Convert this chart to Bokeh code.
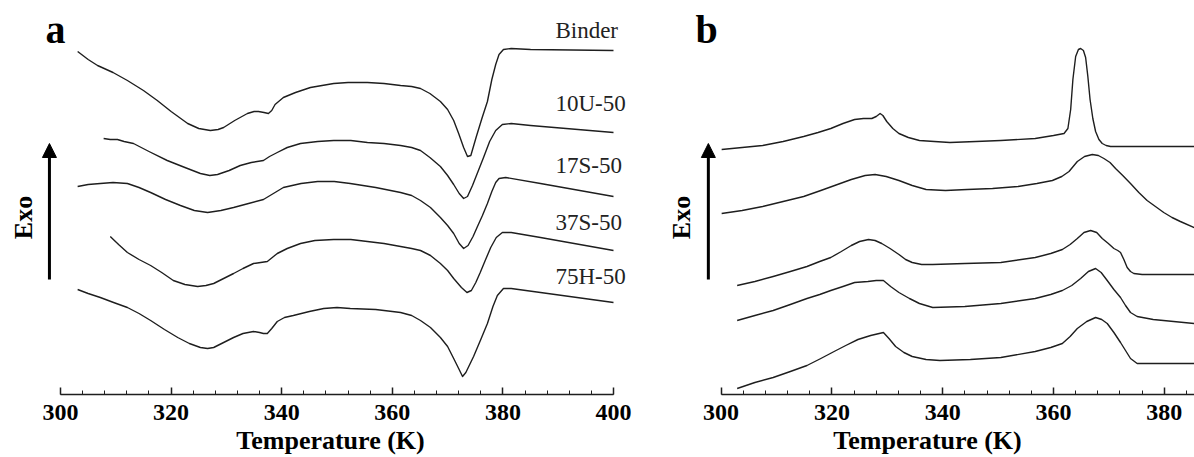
from math import pi
from bokeh.plotting import figure
from bokeh.layouts import row
from bokeh.models import Range1d, SingleIntervalTicker, Arrow, NormalHead
from bokeh.core.properties import value
from bokeh.embed import file_html
from bokeh.resources import INLINE

# ---------------- data (temperature in K, heat flow in arbitrary offset units) ----------------
# Panel a
a_binder_T = [303.1, 305.0, 306.7, 309.5, 312.1, 315.0, 317.5, 320.0, 323.0, 325.0, 327.1, 328.5, 329.5,
              331.5, 333.8, 335.0, 335.8, 336.8, 337.6, 338.2, 338.8, 340.3, 342.5, 345.2, 349.4, 352.0,
              355.5, 358.5, 361.5, 363.5, 365.1, 366.8, 368.7, 370.0, 371.1, 372.0, 372.9, 373.6, 374.2,
              375.2, 376.2, 377.2, 378.0, 378.7, 379.3, 380.1, 381.5, 385.0, 400.0]
a_binder_y = [34.3, 33.5, 32.9, 32.2, 31.4, 30.4, 29.4, 28.3, 27.1, 26.6, 26.4, 26.5, 26.7,
              27.4, 28.1, 28.3, 28.3, 28.2, 28.1, 28.4, 29.0, 29.7, 30.2, 30.7, 31.1, 31.2,
              31.2, 31.1, 30.9, 30.8, 30.6, 30.1, 29.3, 28.5, 27.4, 26.1, 24.7, 23.8, 23.9,
              25.8, 27.6, 29.3, 31.5, 33.0, 34.0, 34.5, 34.6, 34.5, 34.4]

a_10u_T = [307.8, 309.0, 310.3, 311.5, 313.2, 316.0, 319.3, 322.5, 325.3, 327.0, 328.4, 330.5, 332.5,
           334.5, 336.7, 337.8, 339.2, 341.0, 343.4, 346.5, 349.4, 352.5, 355.5, 358.5, 361.5, 363.5,
           365.1, 366.8, 368.7, 370.0, 371.1, 372.1, 372.9, 373.6, 374.5, 375.5, 376.5, 377.6, 378.7,
           379.9, 381.5, 385.0, 400.0]
a_10u_y = [25.6, 25.5, 25.5, 25.3, 25.1, 24.3, 23.4, 22.7, 22.1, 21.9, 22.0, 22.4, 22.9,
           23.2, 23.4, 23.8, 24.2, 24.7, 25.1, 25.3, 25.4, 25.4, 25.2, 25.1, 24.9, 24.7,
           24.4, 23.7, 22.8, 21.9, 21.0, 20.1, 19.6, 19.8, 20.9, 22.3, 23.7, 25.3, 26.4,
           27.0, 27.1, 26.9, 26.2]

a_17s_T = [303.1, 305.0, 307.2, 309.5, 312.1, 314.2, 316.3, 319.0, 321.7, 324.2, 326.6, 329.0, 331.3,
           334.0, 336.7, 338.5, 340.3, 343.5, 346.5, 349.5, 352.4, 357.0, 361.5, 363.5, 365.1, 366.9,
           368.7, 370.0, 371.1, 372.1, 372.9, 373.7, 374.6, 375.4, 376.3, 377.2, 378.0, 378.7, 379.3,
           380.5, 386.8, 400.0]
a_17s_y = [20.8, 21.0, 21.1, 21.2, 21.1, 20.7, 20.2, 19.5, 18.9, 18.4, 18.2, 18.4, 18.7,
           19.1, 19.5, 20.1, 20.7, 21.1, 21.3, 21.3, 21.1, 20.7, 20.2, 19.9, 19.4, 18.7,
           17.7, 16.9, 16.1, 15.1, 14.6, 14.9, 15.8, 16.8, 17.9, 19.1, 20.3, 21.2, 21.6,
           21.7, 21.1, 19.8]

a_37s_T = [309.0, 310.5, 312.1, 314.2, 316.3, 318.3, 320.4, 322.5, 324.8, 326.3, 327.7, 329.5, 331.3,
           333.0, 334.9, 336.2, 337.4, 338.3, 339.2, 341.0, 343.4, 346.0, 349.4, 352.5, 355.5, 358.5,
           361.5, 363.5, 365.1, 366.9, 368.7, 370.0, 371.1, 372.5, 373.5, 374.3, 375.1, 375.9, 376.8,
           377.8, 378.8, 379.9, 381.5, 386.8, 400.0]
a_37s_y = [15.8, 15.0, 14.2, 13.5, 12.9, 12.2, 11.4, 11.0, 10.8, 10.9, 11.1, 11.6, 12.1,
           12.6, 13.1, 13.2, 13.3, 13.7, 14.1, 14.6, 15.1, 15.4, 15.5, 15.5, 15.3, 15.1,
           14.8, 14.6, 14.4, 13.9, 13.1, 12.4, 11.6, 10.7, 10.2, 10.4, 11.2, 12.2, 13.4,
           14.7, 15.7, 16.2, 16.2, 15.7, 14.4]

a_75h_T = [303.1, 305.0, 307.2, 309.6, 312.1, 314.2, 316.3, 318.8, 321.2, 323.3, 325.3, 326.6, 327.7,
           329.5, 331.3, 333.0, 334.9, 336.0, 336.7, 337.4, 338.2, 339.2, 340.5, 342.1, 345.0, 347.6,
           350.0, 352.4, 357.0, 361.5, 363.5, 365.1, 366.9, 368.7, 370.0, 371.1, 372.0, 372.7, 373.3,
           374.0, 374.7, 376.0, 377.2, 378.2, 379.0, 380.1, 381.5, 386.8, 400.0]
a_75h_y = [10.5, 10.1, 9.7, 9.2, 8.7, 8.1, 7.4, 6.5, 5.7, 5.1, 4.7, 4.6, 4.7,
           5.2, 5.7, 6.1, 6.3, 6.2, 6.1, 6.1, 6.6, 7.3, 7.7, 7.9, 8.3, 8.6,
           8.7, 8.6, 8.5, 8.2, 7.9, 7.4, 6.7, 5.7, 4.8, 3.6, 2.6, 1.8, 2.2,
           3.0, 3.8, 5.5, 7.1, 8.8, 9.9, 10.6, 10.6, 10.2, 9.2]

a_names = ["Binder", "10U-50", "17S-50", "37S-50", "75H-50"]
a_label_T = [389.5, 389.5, 389.5, 389.5, 389.5]
a_label_y = [36.45, 29.15, 22.95, 17.25, 11.85]

# Panel b
b1_T = [300.1, 303.8, 307.5, 311.2, 314.9, 317.5, 319.8, 322.0, 324.1, 325.7, 327.2, 328.0, 328.7,
        329.2, 329.9, 331.0, 332.1, 333.8, 335.8, 338.5, 341.3, 346.0, 350.5, 356.7, 360.0, 361.9,
        362.6, 363.1, 363.5, 364.0, 364.5, 364.9, 365.4, 365.8, 366.2, 366.6, 367.1, 367.6, 368.2,
        368.8, 369.5, 370.3, 385.4]
b1_y = [24.5, 24.7, 24.9, 25.3, 25.8, 26.2, 26.6, 27.1, 27.5, 27.6, 27.6, 27.8, 28.1,
        27.9, 27.3, 26.6, 26.1, 25.7, 25.4, 25.3, 25.2, 25.3, 25.4, 25.6, 25.9, 26.1,
        26.6, 28.5, 31.5, 33.8, 34.5, 34.6, 34.4, 33.7, 31.8, 29.5, 27.6, 26.3, 25.5,
        25.1, 24.9, 24.8, 24.8]

b2_T = [300.1, 303.8, 307.5, 311.2, 314.9, 318.0, 321.0, 323.5, 326.0, 327.8, 329.8, 332.1, 334.5,
        337.0, 340.5, 344.4, 349.0, 353.6, 357.0, 359.8, 361.5, 362.8, 364.3, 365.6, 367.0, 368.1,
        369.1, 370.2, 371.2, 372.5, 373.9, 375.4, 376.9, 378.4, 379.9, 381.4, 382.9, 385.4]
b2_y = [18.1, 18.4, 18.8, 19.3, 19.8, 20.4, 21.0, 21.5, 21.9, 22.0, 21.8, 21.4, 20.9,
        20.5, 20.4, 20.5, 20.6, 20.8, 21.1, 21.4, 21.8, 22.3, 23.3, 23.8, 24.0, 23.9,
        23.6, 23.2, 22.6, 21.9, 21.1, 20.2, 19.4, 18.8, 18.2, 17.7, 17.3, 16.7]

b3_T = [302.9, 306.1, 309.4, 312.5, 315.5, 317.8, 319.8, 321.7, 323.5, 325.0, 326.6, 327.8, 329.0,
        330.5, 332.1, 333.3, 334.5, 336.2, 338.2, 344.0, 350.5, 356.7, 359.5, 361.6, 363.0, 364.3,
        365.5, 366.7, 367.8, 368.8, 369.9, 370.9, 371.6, 372.1, 372.7, 373.3, 373.9, 374.5, 376.0,
        385.4]
b3_y = [10.9, 11.3, 11.8, 12.3, 12.8, 13.3, 13.7, 14.3, 14.9, 15.3, 15.5, 15.4, 15.1,
        14.6, 14.0, 13.5, 13.2, 13.0, 13.0, 13.1, 13.2, 13.7, 14.1, 14.5, 15.0, 15.6,
        16.2, 16.4, 16.2, 15.6, 15.1, 14.6, 14.4, 14.2, 13.5, 12.7, 12.3, 12.1, 12.0,
        12.0]

b4_T = [302.9, 306.1, 309.4, 312.5, 315.5, 317.8, 319.8, 322.0, 324.1, 326.5, 328.0, 329.3, 330.6,
        332.1, 334.0, 335.8, 338.2, 344.0, 350.5, 356.7, 359.5, 361.6, 363.3, 364.9, 366.3, 367.6,
        368.6, 369.7, 370.9, 372.1, 373.0, 373.9, 375.1, 378.0, 385.4]
b4_y = [7.4, 7.9, 8.4, 9.0, 9.6, 10.0, 10.4, 10.8, 11.2, 11.3, 11.4, 11.4, 10.8,
        10.2, 9.6, 9.1, 8.7, 8.8, 9.1, 9.6, 10.0, 10.4, 10.9, 11.6, 12.3, 12.6,
        12.2, 11.4, 10.5, 9.7, 8.9, 8.2, 7.8, 7.5, 7.1]

b5_T = [302.9, 306.1, 309.4, 312.5, 315.5, 318.0, 320.4, 322.5, 324.7, 327.0, 329.3, 330.3, 331.5,
        333.0, 334.5, 337.0, 339.5, 345.0, 350.5, 356.7, 359.5, 361.6, 363.0, 364.3, 366.0, 367.6,
        368.7, 369.7, 370.9, 372.1, 373.0, 373.9, 375.1, 385.4]
b5_y = [0.6, 1.2, 1.7, 2.3, 2.9, 3.6, 4.3, 4.9, 5.5, 5.9, 6.2, 5.6, 4.8,
        4.2, 3.8, 3.5, 3.4, 3.5, 3.7, 4.3, 4.7, 5.1, 5.8, 6.6, 7.3, 7.7,
        7.5, 7.1, 6.2, 5.2, 4.4, 3.6, 3.1, 3.1]

tick_interval = 20
x_label = "Temperature (K)"

# ---------------- styling ----------------
SERIF = "Liberation Serif"
INK = "#1e1e1e"
BOTTOM_BORDER = 63
Y_RANGE = (0, 39.4)


def make_panel(width, x_start, x_end, axis_end, letter, letter_T, arrow_T, exo_T):
    p = figure(width=width, height=457, output_backend="svg", toolbar_location=None,
               x_range=Range1d(x_start, x_end), y_range=Range1d(*Y_RANGE),
               min_border_left=0, min_border_right=0, min_border_top=0,
               min_border_bottom=BOTTOM_BORDER)
    p.outline_line_color = None
    p.grid.visible = False
    p.yaxis.visible = False
    ax = p.xaxis[0]
    ax.bounds = (300, axis_end)
    ax.ticker = SingleIntervalTicker(interval=tick_interval, num_minor_ticks=5)
    ax.axis_line_width = 1.5
    ax.axis_line_color = INK
    ax.major_tick_in = 7
    ax.major_tick_out = 0
    ax.minor_tick_in = 4
    ax.minor_tick_out = 0
    ax.major_tick_line_width = 1.5
    ax.major_tick_line_color = INK
    ax.minor_tick_line_color = INK
    ax.major_label_text_font = SERIF
    ax.major_label_text_font_style = "bold"
    ax.major_label_text_font_size = "24px"
    ax.major_label_text_color = "black"
    ax.major_label_text_line_height = 0.9
    ax.major_label_standoff = 10
    ax.axis_label = x_label
    ax.axis_label_text_font = SERIF
    ax.axis_label_text_font_style = "bold"
    ax.axis_label_text_font_size = "26px"
    ax.axis_label_text_color = "black"
    ax.axis_label_text_line_height = 0.9
    ax.axis_label_standoff = 3

    p.text(x=[letter_T], y=[36.55], text=[letter], text_font=value(SERIF), text_font_style="bold",
           text_font_size="40px", text_color="black", text_baseline="alphabetic", text_align="left")
    p.text(x=[exo_T], y=[17.7], text=["Exo"], angle=pi / 2, text_font=value(SERIF),
           text_font_style="bold", text_font_size="26px", text_color="black",
           text_baseline="middle", text_align="center")
    p.add_layout(Arrow(end=NormalHead(size=14, fill_color="black", line_color="black"),
                       x_start=arrow_T, y_start=11.5, x_end=arrow_T, y_end=25.1,
                       line_width=3, line_color="black"))
    return p


pa = make_panel(660, 300 - 60 / 5.53, 300 + 600 / 5.53, 400, "a", 297.3, 298.0, 293.3)
for T, y in [(a_binder_T, a_binder_y), (a_10u_T, a_10u_y), (a_17s_T, a_17s_y),
             (a_37s_T, a_37s_y), (a_75h_T, a_75h_y)]:
    pa.line(T, y, line_color=INK, line_width=1.4, line_join="round")
pa.text(x=a_label_T, y=a_label_y, text=a_names, text_font=value(SERIF), text_font_size="23px",
        text_color="#222222", text_baseline="alphabetic", text_align="left")

b_end = 300 + (1194 - 720.6) / 5.54
pb = make_panel(534, 300 - 60.6 / 5.54, b_end, b_end, "b", 295.4, 297.7, 292.8)
for T, y in [(b1_T, b1_y), (b2_T, b2_y), (b3_T, b3_y), (b4_T, b4_y), (b5_T, b5_y)]:
    pb.line(T, y, line_color=INK, line_width=1.4, line_join="round")

layout = row(pa, pb, spacing=0)
open("out.html", "w").write(file_html(layout, INLINE))
